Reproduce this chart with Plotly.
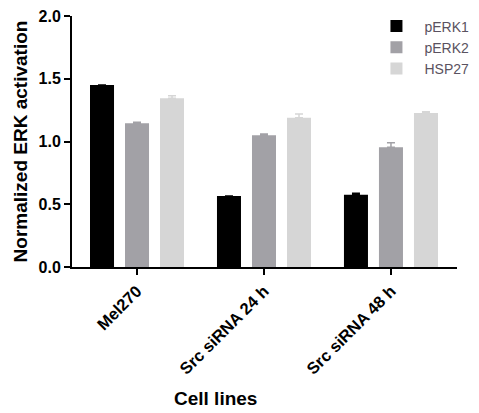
import plotly.graph_objects as go

categories = ["Mel270", "Src siRNA 24 h", "Src siRNA 48 h"]
series_names = ["pERK1", "pERK2", "HSP27"]
perk1 = [1.45, 0.565, 0.575]
perk2 = [1.145, 1.05, 0.955]
hsp27 = [1.345, 1.19, 1.228]
perk1_err = [0.0, 0.0, 0.012]
perk2_err = [0.008, 0.01, 0.035]
hsp27_err = [0.02, 0.03, 0.01]
colors = ["#000000", "#a2a1a6", "#d6d6d6"]
y_ticks = [0.0, 0.5, 1.0, 1.5, 2.0]

fig = go.Figure()
for name, vals, errs, col in zip(series_names, [perk1, perk2, hsp27],
                                 [perk1_err, perk2_err, hsp27_err], colors):
    fig.add_trace(go.Bar(
        name=name, x=categories, y=vals, marker_color=col,
        marker_line_width=0,
        error_y=dict(type="data", array=errs, arrayminus=[0] * len(errs),
                     symmetric=False, color=col, thickness=1.5, width=4),
    ))

# the page body adds an 8px margin, so the figure is sized 8px smaller
fig.update_layout(
    width=471, height=405,
    margin=dict(l=64, r=22, t=8, b=146, autoexpand=False),
    paper_bgcolor="white", plot_bgcolor="white",
    barmode="group", bargap=0.173, bargroupgap=0.314,
    font=dict(family="Liberation Sans, Arial, sans-serif", color="#000"),
    showlegend=True,
    legend=dict(x=0.770, y=1.022, xanchor="left", yanchor="top",
                font=dict(size=14, color="#5a5260"), bgcolor="rgba(0,0,0,0)",
                tracegroupgap=0, itemwidth=46),
)
fig.update_xaxes(
    range=[-0.512, 2.52], showline=True, linecolor="#000", linewidth=2,
    ticks="outside", ticklen=6, tickwidth=2, tickcolor="#000",
    tickangle=-45, tickfont=dict(size=16.5, color="#000"),
    showgrid=False, zeroline=False, automargin=False,
    tickvals=categories, ticktext=[f"<b>{c}</b>" for c in categories],
    ticklabeloverflow="allow",
)
fig.update_yaxes(
    range=[0, 2.0], tickvals=y_ticks, ticktext=[f"<b>{v:.1f}</b>" for v in y_ticks],
    showline=True, linecolor="#000", linewidth=2,
    ticks="outside", ticklen=6, tickwidth=2, tickcolor="#000",
    tickfont=dict(size=16, color="#000"),
    showgrid=False, zeroline=False, automargin=False,
    ticklabeloverflow="allow",
    title=dict(text="<b>Normalized ERK activation</b>", font=dict(size=19), standoff=6),
)

fig.add_annotation(text="<b>Cell lines</b>", xref="paper", yref="paper",
                   x=0.374, y=0, yshift=-131, showarrow=False,
                   font=dict(size=19, color="#000"), xanchor="center", yanchor="middle")

fig.write_html("out.html")
